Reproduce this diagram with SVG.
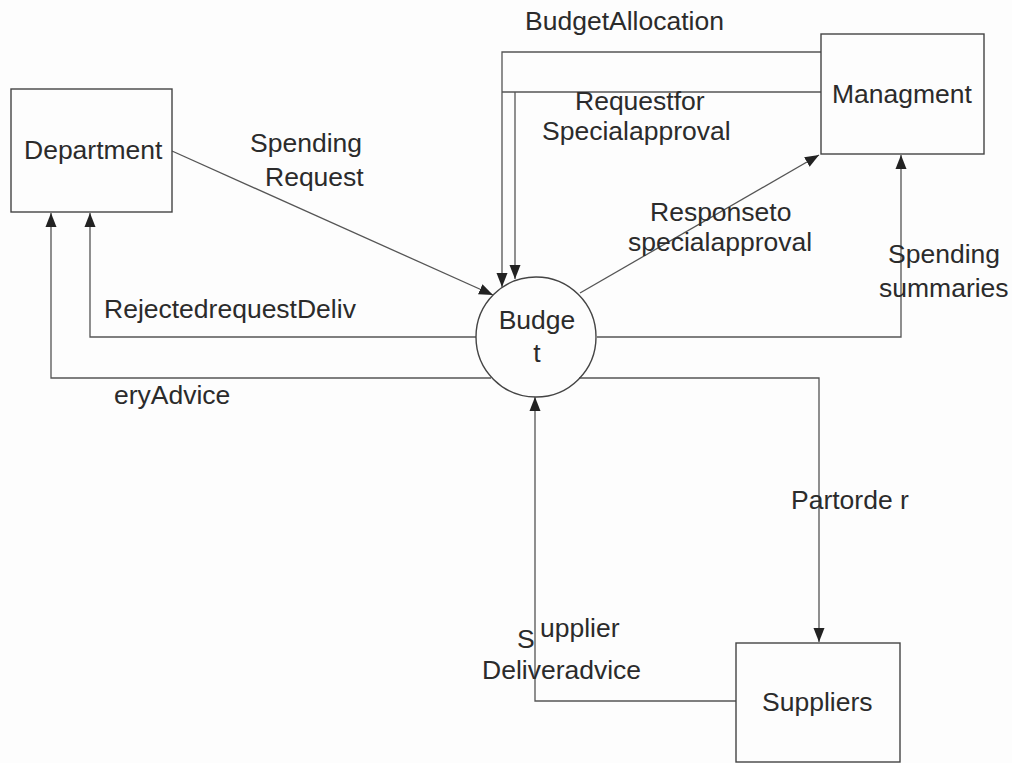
<svg xmlns="http://www.w3.org/2000/svg" width="1012" height="763" viewBox="0 0 1012 763">
<style>
.box{fill:none;stroke:#444;stroke-width:1.4}
.ln{fill:none;stroke:#555;stroke-width:1.3}
text{font-family:"Liberation Sans",Arial,sans-serif;font-size:26.5px;fill:#2b2b2b}
</style>
<defs>
<marker id="ah" markerUnits="userSpaceOnUse" markerWidth="15" markerHeight="13" refX="14" refY="5.5" orient="auto" viewBox="0 0 15 11">
<path d="M0,0 L14,5.5 L0,11 z" fill="#222"/>
</marker>
</defs>
<rect width="1012" height="763" fill="#fdfdfd"/>
<g id="connectors">
<path class="ln" d="M172,151 L493,295" marker-end="url(#ah)"/>
<path class="ln" d="M821,52 H502 V287" marker-end="url(#ah)"/>
<path class="ln" d="M821,92 H502"/>
<path class="ln" d="M515,92 V279" marker-end="url(#ah)"/>
<path class="ln" d="M580,293 L819,155" marker-end="url(#ah)"/>
<path class="ln" d="M597,337 H901 V155" marker-end="url(#ah)"/>
<path class="ln" d="M476,337 H90 V213" marker-end="url(#ah)"/>
<path class="ln" d="M491,378 H51 V213" marker-end="url(#ah)"/>
<path class="ln" d="M579,378 H819 V642" marker-end="url(#ah)"/>
<path class="ln" d="M736,701 H535 V397" marker-end="url(#ah)"/>
<text x="250" y="152">Spending</text>
<text x="265" y="186">Request</text>
<text x="525" y="30">BudgetAllocation</text>
<text x="575" y="110">Requestfor</text>
<text x="542" y="140">Specialapproval</text>
<text x="650" y="221">Responseto</text>
<text x="628" y="251">specialapproval</text>
<text x="888" y="263">Spending</text>
<text x="879" y="297">summaries</text>
<text x="104" y="318">RejectedrequestDeliv</text>
<text x="114" y="404">eryAdvice</text>
<text x="791" y="509">Partorde r</text>
<text x="517" y="648">S</text>
<text x="540" y="637">upplier</text>
<text x="482" y="679">Deliveradvice</text>
</g>
<g id="department">
<rect class="box" x="11" y="89" width="161" height="123"/>
<text x="24" y="159">Department</text>
</g>
<g id="managment">
<rect class="box" x="821" y="34" width="163" height="120"/>
<text x="832" y="103">Managment</text>
</g>
<g id="budget">
<circle class="box" cx="536" cy="337" r="60"/>
<text x="537" y="329" text-anchor="middle">Budge</text>
<text x="537" y="362" text-anchor="middle">t</text>
</g>
<g id="suppliers">
<rect class="box" x="736" y="643" width="164" height="119"/>
<text x="762" y="711">Suppliers</text>
</g>
</svg>
